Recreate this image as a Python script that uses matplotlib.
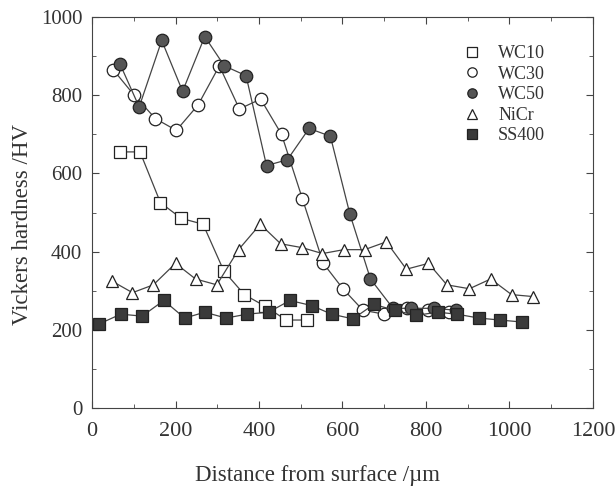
import matplotlib
matplotlib.use("Agg")
from matplotlib import pyplot as plt
from matplotlib.ticker import MultipleLocator

plt.rcParams['font.family'] = ['Liberation Serif', 'DejaVu Serif']

# Data
wc10_x = [68, 115, 164, 214, 266, 316, 365, 415, 465, 516]
wc10_y = [655, 655, 525, 485, 470, 350, 290, 260, 225, 225]

wc30_x = [51, 101, 152, 202, 254, 305, 353, 404, 454, 504, 554, 601, 649, 700, 755, 805, 855]
wc30_y = [865, 800, 740, 710, 775, 875, 765, 790, 700, 535, 370, 305, 250, 240, 255, 250, 245]

wc50_x = [67, 113, 167, 217, 270, 317, 369, 418, 468, 520, 571, 618, 667, 721, 763, 818, 872]
wc50_y = [880, 770, 940, 810, 950, 875, 850, 620, 635, 715, 695, 495, 330, 255, 255, 255, 250]

nicr_x = [47, 97, 147, 200, 248, 299, 351, 403, 452, 504, 552, 603, 653, 705, 753,
          806, 850, 904, 955, 1005, 1057]
nicr_y = [325, 295, 315, 370, 330, 315, 405, 470, 420, 410, 395, 405, 405, 425, 355,
          370, 315, 305, 330, 290, 285]

ss400_x = [17, 69, 120, 172, 222, 270, 321, 371, 423, 474, 526, 574, 625, 675, 725,
           776, 828, 874, 927, 977, 1029]
ss400_y = [215, 240, 235, 275, 230, 245, 230, 240, 245, 275, 262, 240, 228, 265, 250,
           237, 245, 240, 230, 225, 220]

fig = plt.figure(figsize=(6.15, 4.93), dpi=100)
ax = fig.add_axes([0.1496, 0.1724, 0.8146, 0.7931])

line_kw = dict(color='#444444', lw=0.9, ms=9, mew=0.9)
ax.plot(wc10_x, wc10_y, marker='s', mfc='white', mec='#222222', label='WC10', **line_kw)
ax.plot(wc30_x, wc30_y, marker='o', mfc='white', mec='#222222', label='WC30', **line_kw)
ax.plot(wc50_x, wc50_y, marker='o', mfc='#555555', mec='#222222', label='WC50', **line_kw)
ax.plot(nicr_x, nicr_y, marker='^', mfc='white', mec='#222222', label='NiCr', **line_kw)
ax.plot(ss400_x, ss400_y, marker='s', mfc='#3a3a3a', mec='#222222', label='SS400', **line_kw)

ax.set_xlim(0, 1200)
ax.set_ylim(0, 1000)
ax.xaxis.set_major_locator(MultipleLocator(200))
ax.xaxis.set_minor_locator(MultipleLocator(100))
ax.yaxis.set_major_locator(MultipleLocator(200))
ax.yaxis.set_minor_locator(MultipleLocator(100))
ax.tick_params(which='both', direction='in', top=True, right=True, colors='#444444',
               labelcolor='#333333')
ax.tick_params(which='major', length=5)
ax.tick_params(which='minor', length=3)
ax.tick_params(axis='x', labelsize=16, pad=10)
ax.tick_params(axis='y', labelsize=15, pad=7)
for s in ax.spines.values():
    s.set_color('#444444')

ax.set_xlabel('Distance from surface /\u00b5m', fontsize=16.5, color='#333333')
ax.xaxis.set_label_coords(0.45, -0.145)
ax.set_ylabel('Vickers hardness /HV', fontsize=16.5, color='#333333')
ax.yaxis.set_label_coords(-0.118, 0.47)

leg = ax.legend(loc='upper right', bbox_to_anchor=(0.937, 0.97), frameon=False, fontsize=13,
                handlelength=1.2, labelspacing=0.2, handletextpad=0.85, markerscale=0.75)
for h in leg.legend_handles:
    h.set_linestyle('None')
for t in leg.get_texts():
    t.set_color('#333333')

fig.savefig('out.png', dpi=100)
